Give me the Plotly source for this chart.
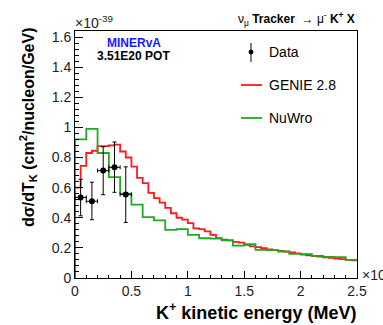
import numpy as np
import plotly.graph_objects as go

# ---------------- data ----------------
bin_width_genie = 0.05
genie_values = [0.60, 0.745, 0.83, 0.845, 0.875, 0.875, 0.88, 0.885, 0.84, 0.80,
                0.74, 0.665, 0.63, 0.565, 0.53, 0.50, 0.465, 0.43, 0.40, 0.387,
                0.365, 0.33, 0.325, 0.31, 0.287, 0.265,
                0.255, 0.25, 0.24, 0.235, 0.22, 0.21, 0.205, 0.198, 0.19, 0.185,
                0.18, 0.175, 0.17, 0.163, 0.155, 0.15, 0.145, 0.142, 0.137, 0.133,
                0.128, 0.125, 0.12, 0.117]

bin_width_nuwro = 0.1
nuwro_values = [0.92, 0.99, 0.83, 0.67, 0.56, 0.487, 0.404, 0.382, 0.32, 0.324,
                0.287, 0.264, 0.262, 0.25, 0.215, 0.224, 0.187, 0.185, 0.176, 0.16,
                0.158, 0.147, 0.14, 0.138, 0.12]

data_x = [0.05, 0.15, 0.25, 0.35, 0.45]
data_xerr = [0.05, 0.05, 0.05, 0.05, 0.05]
data_y = [0.535, 0.51, 0.713, 0.735, 0.555]
data_err_up = [0.12, 0.126, 0.158, 0.168, 0.183]
data_err_dn = [0.122, 0.123, 0.16, 0.166, 0.186]

x_range = [0, 2.5]
y_range = [0, 1.64]

FONT = "Liberation Sans"
RED = "#ff1a1a"
GREEN = "#22a822"


def step_xy(values, width):
    edges = np.arange(len(values) + 1) * width
    xs = [0.0] + list(edges)
    ys = [0.0] + list(values) + [values[-1]]
    return xs, ys


fig = go.Figure()

gx, gy = step_xy(genie_values, bin_width_genie)
fig.add_trace(go.Scatter(x=gx, y=gy, mode="lines", line=dict(color=RED, width=1.8, shape="hv"),
                         name="GENIE 2.8", showlegend=False))
nx, ny = step_xy(nuwro_values, bin_width_nuwro)
fig.add_trace(go.Scatter(x=nx, y=ny, mode="lines", line=dict(color=GREEN, width=1.8, shape="hv"),
                         name="NuWro", showlegend=False))
fig.add_trace(go.Scatter(
    x=data_x, y=data_y, mode="markers", name="Data", showlegend=False,
    marker=dict(color="black", size=6, symbol="circle"),
    error_y=dict(type="data", symmetric=False, array=data_err_up, arrayminus=data_err_dn,
                 color="black", thickness=1, width=2),
    error_x=dict(type="data", array=data_xerr, color="black", thickness=1, width=2),
))

# ---------------- layout ----------------
W, H = 383, 325
L, R, T, B = 75, 26, 31, 47
pw, ph = W - L - R, H - T - B


def px(xp):
    return (xp - L) / pw


def py(yp):
    return (H - B - yp) / ph


axis_common = dict(showline=True, linecolor="black", linewidth=1, mirror=True,
                   ticks="inside", tickcolor="black", tickwidth=1,
                   showgrid=False, zeroline=False,
                   tickfont=dict(family=FONT, size=14, color="#222"))

fig.update_layout(
    width=W, height=H,
    margin=dict(l=L, r=R, t=T, b=B),
    paper_bgcolor="white", plot_bgcolor="white",
    xaxis=dict(range=x_range, dtick=0.5, ticklen=7,
               minor=dict(dtick=0.1, ticklen=3.5, ticks="inside", tickcolor="black"),
               **axis_common),
    yaxis=dict(range=y_range, dtick=0.2, ticklen=8,
               minor=dict(dtick=0.04, ticklen=4, ticks="inside", tickcolor="black"),
               **axis_common),
    showlegend=False,
)

ann = []
ann.append(dict(text="<b>dσ/dT<sub>K</sub> (cm<sup>2</sup>/nucleon/GeV)</b>", textangle=-90,
                x=px(28), y=py(127), xref="paper", yref="paper", xanchor="center", yanchor="middle",
                showarrow=False, font=dict(family=FONT, size=16, color="black")))
ann.append(dict(text="<b>K<sup>+</sup> kinetic energy (MeV)</b>",
                x=px(358), y=py(311), xref="paper", yref="paper", xanchor="right", yanchor="middle",
                showarrow=False, font=dict(family=FONT, size=18, color="black")))
ann.append(dict(text="ν<sub>μ</sub> <b>Tracker</b>  → μ<sup>-</sup> <b>K<sup>+</sup> X</b>",
                x=px(357), y=py(19), xref="paper", yref="paper", xanchor="right", yanchor="middle",
                showarrow=False, font=dict(family=FONT, size=12, color="black")))
ann.append(dict(text="×10<sup>-39</sup>",
                x=px(73), y=py(22), xref="paper", yref="paper", xanchor="left", yanchor="middle",
                showarrow=False, font=dict(family=FONT, size=14, color="#222")))
ann.append(dict(text="×10<sup>3</sup>",
                x=px(360), y=py(274), xref="paper", yref="paper", xanchor="left", yanchor="middle",
                showarrow=False, font=dict(family=FONT, size=14, color="#222")))
ann.append(dict(text="<b>MINERvA</b>",
                x=px(134), y=py(43), xref="paper", yref="paper", xanchor="center", yanchor="middle",
                showarrow=False, font=dict(family=FONT, size=12, color="#1a1aff")))
ann.append(dict(text="<b>3.51E20 POT</b>",
                x=px(133), y=py(56), xref="paper", yref="paper", xanchor="center", yanchor="middle",
                showarrow=False, font=dict(family=FONT, size=12, color="black")))

legend_items = [("Data", 52), ("GENIE 2.8", 85), ("NuWro", 118)]
for label, yp in legend_items:
    ann.append(dict(text=label, x=px(267), y=py(yp), xref="paper", yref="paper",
                    xanchor="left", yanchor="middle", showarrow=False,
                    font=dict(family=FONT, size=14, color="black")))

shapes = []
# legend: data marker with error bar
shapes.append(dict(type="line", xref="paper", yref="paper", x0=px(251), x1=px(251),
                   y0=py(43), y1=py(62), line=dict(color="black", width=1)))
shapes.append(dict(type="circle", xref="paper", yref="paper", x0=px(249), x1=px(253),
                   y0=py(50), y1=py(54), fillcolor="black", line=dict(color="black", width=1)))
shapes.append(dict(type="line", xref="paper", yref="paper", x0=px(241), x1=px(262),
                   y0=py(85), y1=py(85), line=dict(color=RED, width=1.8)))
shapes.append(dict(type="line", xref="paper", yref="paper", x0=px(241), x1=px(262),
                   y0=py(118), y1=py(118), line=dict(color=GREEN, width=1.8)))

fig.update_layout(annotations=ann, shapes=shapes)
fig.write_html("out.html")
